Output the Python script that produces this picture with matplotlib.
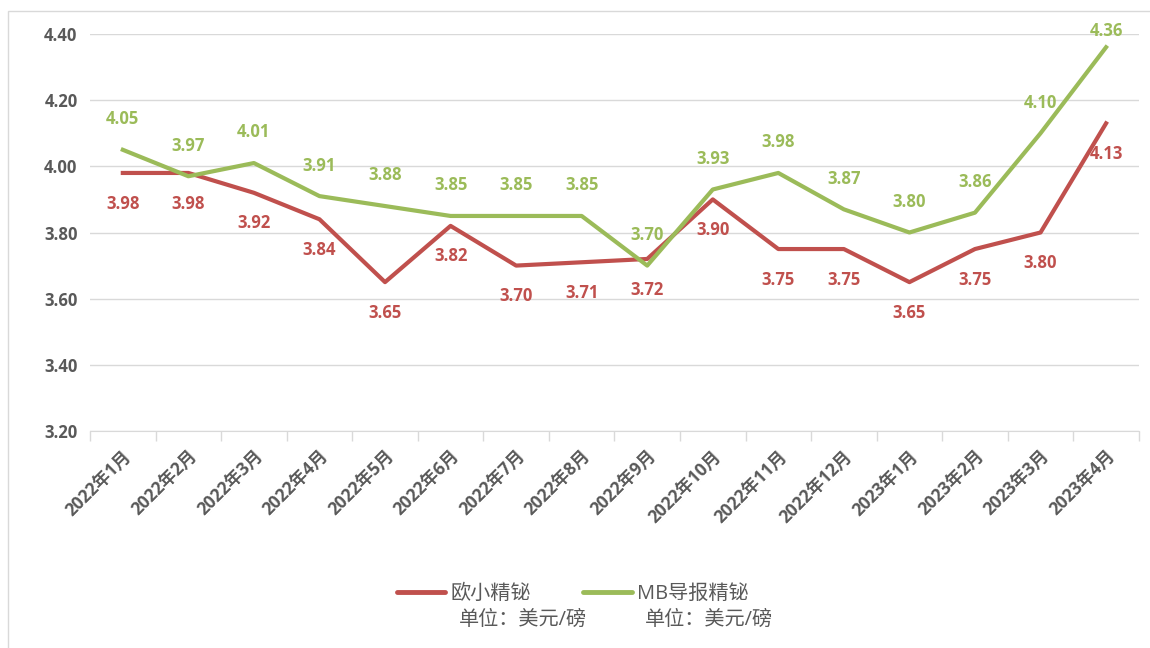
import matplotlib.pyplot as plt
from matplotlib.patches import Rectangle

# Monthly prices (USD / lb)
months = ['2022年1月', '2022年2月', '2022年3月', '2022年4月', '2022年5月', '2022年6月',
          '2022年7月', '2022年8月', '2022年9月', '2022年10月', '2022年11月', '2022年12月',
          '2023年1月', '2023年2月', '2023年3月', '2023年4月']
eu_bismuth = [3.98, 3.98, 3.92, 3.84, 3.65, 3.82, 3.70, 3.71, 3.72, 3.90,
              3.75, 3.75, 3.65, 3.75, 3.80, 4.13]
mb_bismuth = [4.05, 3.97, 4.01, 3.91, 3.88, 3.85, 3.85, 3.85, 3.70, 3.93,
              3.98, 3.87, 3.80, 3.86, 4.10, 4.36]
series_names = ['欧小精铋', 'MB导报精铋']
unit_text = '单位：美元/磅'
yticks = [3.20, 3.40, 3.60, 3.80, 4.00, 4.20, 4.40]

RED = '#C0504D'
GREEN = '#9BBB59'
GREY = '#595959'
FONTS = ['Open Sans', 'Noto Sans CJK SC', 'DejaVu Sans']

plt.rcParams['font.family'] = FONTS

fig = plt.figure(figsize=(11.5, 6.48), dpi=100)
ax = fig.add_axes([0.0783, 0.3349, 0.912, 0.6126])

x = list(range(len(months)))
ax.plot(x, eu_bismuth, color=RED, linewidth=3, label=series_names[0])
ax.plot(x, mb_bismuth, color=GREEN, linewidth=3, label=series_names[1])

# data labels: green above, red below
for i, v in enumerate(mb_bismuth):
    off = 22 if v < 4.3 else 12
    ax.annotate(f'{v:.2f}', (i, v), xytext=(0, off), textcoords='offset points',
                ha='center', va='center', color=GREEN, fontsize=12, fontweight='bold')
for i, v in enumerate(eu_bismuth):
    ax.annotate(f'{v:.2f}', (i, v), xytext=(0, -22), textcoords='offset points',
                ha='center', va='center', color=RED, fontsize=12, fontweight='bold')

ax.set_xlim(-0.5, len(months) - 0.5)
ax.set_ylim(3.2, 4.4)
ax.set_yticks(yticks)
ax.set_yticklabels([f'{t:.2f}' for t in yticks], fontsize=12, fontweight='bold', color=GREY)
ax.set_xticks(x)
ax.set_xticklabels(months, rotation=45, ha='right', rotation_mode='anchor',
                   fontsize=12.5, fontweight='bold', color=GREY)
ax.tick_params(axis='y', length=0, pad=9)
ax.tick_params(axis='x', length=0, pad=12)
# tick marks at category boundaries
ax.set_xticks([i - 0.5 for i in range(len(months) + 1)], minor=True)
ax.tick_params(axis='x', which='minor', length=7, color='#D9D9D9', width=1)

ax.grid(axis='y', color='#D9D9D9', linewidth=1)
ax.set_axisbelow(True)
for side in ['top', 'right', 'left']:
    ax.spines[side].set_visible(False)
ax.spines['bottom'].set_color('#D9D9D9')

leg = fig.legend(loc='center', bbox_to_anchor=(0.498, 0.083), ncol=2, frameon=False,
                 fontsize=14.5, labelcolor=GREY, handlelength=2.4, columnspacing=2.6,
                 handletextpad=0.25)
for h in leg.legend_handles:
    h.set_linewidth(3.5)
    h.set_solid_capstyle('round')

# unit line under each legend entry
fig.canvas.draw()
inv = fig.transFigure.inverted()
for t in leg.get_texts():
    bb = t.get_window_extent()
    x0, y0 = inv.transform((bb.x0 + 8, bb.y0 - 6))
    fig.text(x0, y0, unit_text, ha='left', va='top', fontsize=14.5, color=GREY)

# outer chart border
fig.add_artist(Rectangle((8 / 1150, -0.01), 1.0, 1 - 11 / 648 + 0.01,
                         transform=fig.transFigure, fill=False,
                         edgecolor='#D9D9D9', linewidth=1))

fig.savefig('out.png', dpi=100)
